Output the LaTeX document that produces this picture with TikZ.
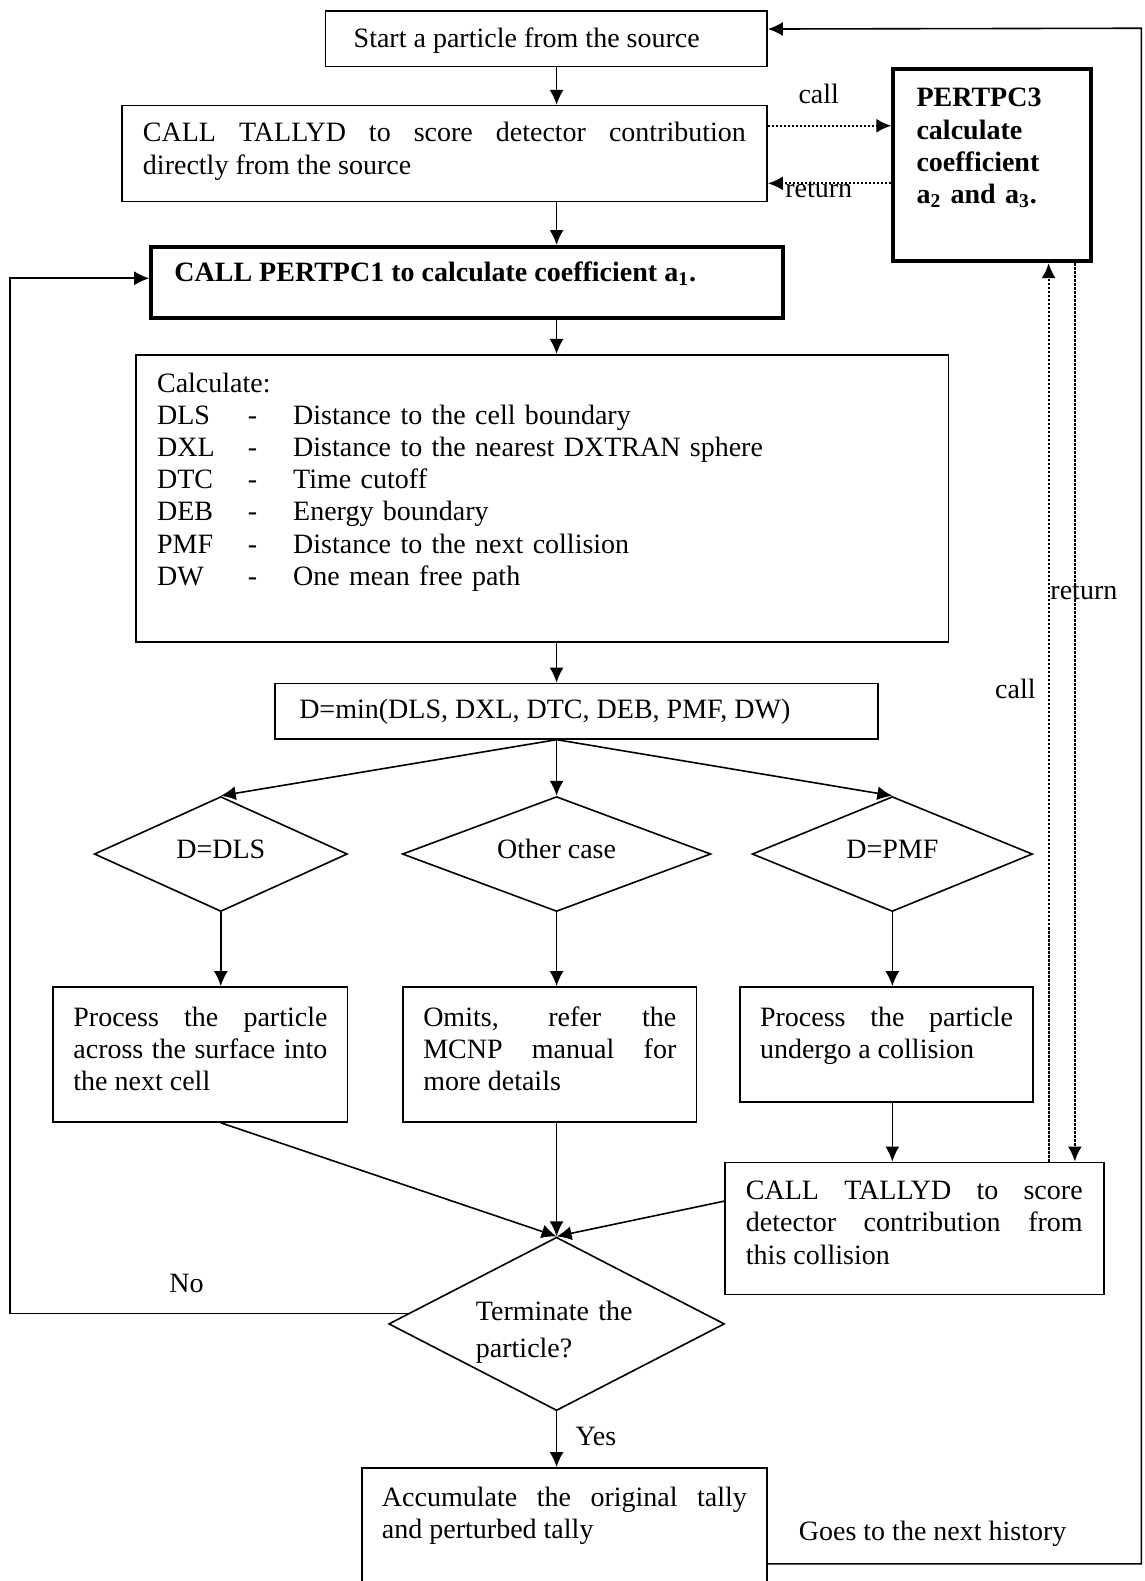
\documentclass[tikz,border=0pt]{standalone}
\usepackage{fontspec}
\setmainfont{Liberation Serif}
\usetikzlibrary{arrows.meta,shapes.geometric}
\newlength{\pxu}
\setlength{\pxu}{0.504pt}
\setlength{\parindent}{0pt}
\newcommand{\calcrow}[2]{\makebox[90\pxu][l]{#1}\makebox[45\pxu][l]{-}#2}

\tikzset{
  box/.style={draw, line width=0.8pt, anchor=north west, inner ysep=0pt, align=justify},
  thickbox/.style={box, line width=2pt},
  choice/.style={draw, diamond, line width=0.8pt, inner sep=0pt, shape aspect=2.7,
    text height=9.5pt, text depth=5pt},
  arr/.style={line width=0.8pt, -{Latex[length=7.5pt,width=7pt]}},
  dotarr/.style={arr, line width=1pt, dash pattern=on 1.2pt off 0.8pt},
  lbl/.style={inner sep=0pt},
}

\begin{document}
\fontsize{14pt}{16.1pt}\selectfont
\begin{tikzpicture}[x=0.504pt, y=-0.504pt]
\useasboundingbox (0,0) rectangle (1135,1568);

% main column
\node[box, inner xsep=28\pxu, text width=382\pxu, text height=36\pxu, text depth=19\pxu] (start) at (322,10) {Start a particle from the source};
\node[box, inner xsep=21\pxu, text width=598\pxu, text height=36\pxu, text depth=59\pxu] (tally1) at (120,104) {CALL TALLYD to score detector contribution\linebreak directly from the source};
\node[thickbox, inner xsep=23\pxu, text width=581\pxu, text height=34\pxu, text depth=36\pxu, font=\bfseries] (pert1) at (148,243) {CALL PERTPC1 to calculate coefficient a\textsubscript{1}.};
\node[thickbox, inner xsep=23\pxu, text width=150\pxu, text height=38\pxu, text depth=153\pxu, align=left, font=\bfseries] (pert3) at (884,66) {PERTPC3\\calculate\\coefficient\\a\textsubscript{2} and a\textsubscript{3}.};
\node[box, inner xsep=21\pxu, text width=764\pxu, text height=37\pxu, text depth=248\pxu, align=left] (calc) at (134,351) {Calculate:\\
  \calcrow{DLS}{Distance to the cell boundary}\\
  \calcrow{DXL}{Distance to the nearest DXTRAN sphere}\\
  \calcrow{DTC}{Time cutoff}\\
  \calcrow{DEB}{Energy boundary}\\
  \calcrow{PMF}{Distance to the next collision}\\
  \calcrow{DW}{One mean free path}};
\node[box, inner xsep=24\pxu, text width=550\pxu, text height=35\pxu, text depth=20\pxu] (dmin) at (272,677) {D=min(DLS, DXL, DTC, DEB, PMF, DW)};

% three cases
\node[choice, minimum width=251\pxu, minimum height=114\pxu] (dls) at (219,847) {D=DLS};
\node[choice, minimum width=306\pxu, minimum height=114\pxu] (other) at (552,847) {Other case};
\node[choice, minimum width=278\pxu, minimum height=114\pxu] (pmf) at (885,847) {D=PMF};

\node[box, inner xsep=20\pxu, text width=252\pxu, text height=39\pxu, text depth=95\pxu] (lproc) at (52,978) {Process the particle\linebreak across the surface into\linebreak the next cell};
\node[box, inner xsep=20\pxu, text width=251\pxu, text height=39\pxu, text depth=95\pxu] (mproc) at (399,978) {Omits, refer the\linebreak MCNP manual for\linebreak more details};
\node[box, inner xsep=20\pxu, text width=251\pxu, text height=39\pxu, text depth=75\pxu] (rproc) at (733,978) {Process the particle\linebreak undergo a collision};
\node[box, inner xsep=21\pxu, text width=334\pxu, text height=37\pxu, text depth=94\pxu] (tally2) at (718,1152) {CALL TALLYD to score\linebreak detector contribution from\linebreak this collision};

\node[choice, minimum width=333\pxu, minimum height=172\pxu, shape aspect=1.94, text width=160\pxu, text height=10pt, text depth=13pt, align=left] (term) at (552,1313) {Terminate the\\[2pt]particle?};
\node[box, inner xsep=20\pxu, text width=362\pxu, text height=38\pxu, text depth=122\pxu] (acc) at (358,1455) {Accumulate the original tally\linebreak and perturbed tally};

% labels
\node[lbl] (callTop) at (812,93) {call};
\node[lbl] (retTop) at (812,188) {return};
\node[lbl] (callSide) at (1007,683) {call};
\node[lbl] (retSide) at (1075,587) {return};
\node[lbl] (no) at (185,1273) {No};
\node[lbl] (yes) at (591,1425) {Yes};
\node[lbl] (nexthist) at (925,1521) {Goes to the next history};

\coordinate (leftrail) at (10,276);
\coordinate (rightrail) at (1132,28);
\coordinate (callx) at (1040,0);
\coordinate (retx) at (1066,0);
\coordinate (callA) at ([yshift=13.9pt]tally1.east);
\coordinate (retA) at ([yshift=-14.9pt]tally1.east);
\coordinate (tallyIn) at ([yshift=13.6pt]tally2.west);
\coordinate (accOut) at ([yshift=-48.4pt]acc.north east);
\coordinate (startIn) at ([yshift=4.8pt]start.east);

\draw[arr] (start.south -| other) -- (tally1.north -| other);
\draw[arr] (tally1.south -| other) -- (pert1.north -| other);
\draw[arr] (pert1.south -| other) -- (calc.north -| other);
\draw[arr] (calc.south -| other) -- (dmin.north -| other);
\draw[arr] (dmin.south -| other) -- (dls.north);
\draw[arr] (dmin.south -| other) -- (other.north);
\draw[arr] (dmin.south -| other) -- (pmf.north);
\draw[arr] (dls.south) -- (lproc.north -| dls);
\draw[arr] (other.south) -- (mproc.north -| other);
\draw[arr] (pmf.south) -- (rproc.north -| pmf);
\draw[arr] (rproc.south -| pmf) -- (tally2.north -| pmf);
\draw[arr] (lproc.south -| dls) -- (term.north);
\draw[arr] (mproc.south -| other) -- (term.north);
\draw[arr] (tallyIn) -- (term.north);
\draw[arr] (term.176.5) -| (leftrail) -- (pert1.west |- leftrail);
\draw[arr] (term.south) -- (acc.north -| term);
\draw[arr] (accOut) -| (rightrail) -- (startIn);

% calls to PERTPC3
\draw[dotarr] (callA) -- (callA -| pert3.west);
\draw[dotarr] (retA -| pert3.west) -- (retA);
\draw[dotarr] (tally2.north -| callx) -- (pert3.south -| callx);
\draw[dotarr] (pert3.south -| retx) -- (tally2.north -| retx);
\end{tikzpicture}
\end{document}
